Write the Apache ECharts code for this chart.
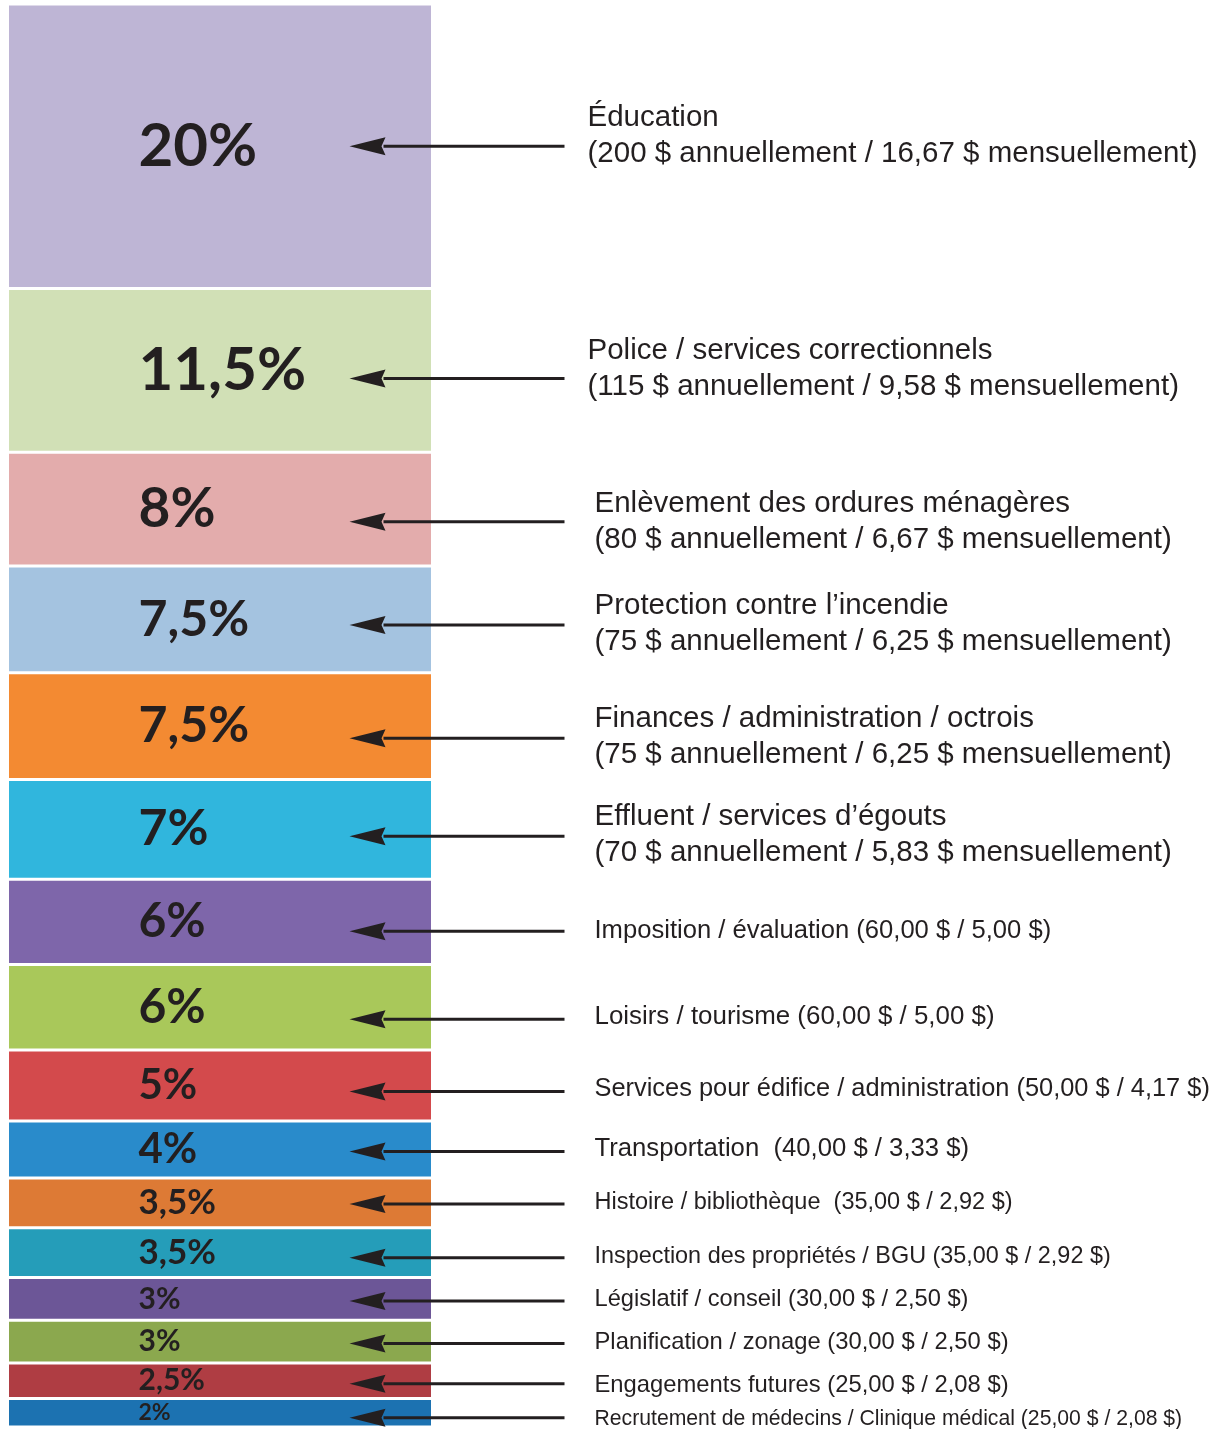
<!DOCTYPE html>
<html>
<head>
<meta charset="utf-8">
<script src="https://cdn.jsdelivr.net/npm/echarts@6/dist/echarts.min.js"></script>
<style>
html,body{margin:0;padding:0;background:#fff;}
#chart{width:1228px;height:1429px;}
</style>
</head>
<body>
<div id="chart"></div>
<script>
// ---- data ----
const categories = [
  'Éducation', 'Police / services correctionnels', 'Enlèvement des ordures ménagères',
  'Protection contre l’incendie', 'Finances / administration / octrois', 'Effluent / services d’égouts',
  'Imposition / évaluation', 'Loisirs / tourisme', 'Services pour édifice / administration',
  'Transportation', 'Histoire / bibliothèque', 'Inspection des propriétés / BGU',
  'Législatif / conseil', 'Planification / zonage', 'Engagements futures',
  'Recrutement de médecins / Clinique médical'
];
const shares = [20, 11.5, 8, 7.5, 7.5, 7, 6, 6, 5, 4, 3.5, 3.5, 3, 3, 2.5, 2];
const detailLabels = [
  'Éducation\n(200 $ annuellement / 16,67 $ mensuellement)',
  'Police / services correctionnels\n(115 $ annuellement / 9,58 $ mensuellement)',
  'Enlèvement des ordures ménagères\n(80 $ annuellement / 6,67 $ mensuellement)',
  'Protection contre l’incendie\n(75 $ annuellement / 6,25 $ mensuellement)',
  'Finances / administration / octrois\n(75 $ annuellement / 6,25 $ mensuellement)',
  'Effluent / services d’égouts\n(70 $ annuellement / 5,83 $ mensuellement)',
  'Imposition / évaluation (60,00 $ / 5,00 $)',
  'Loisirs / tourisme (60,00 $ / 5,00 $)',
  'Services pour édifice / administration (50,00 $ / 4,17 $)',
  'Transportation  (40,00 $ / 3,33 $)',
  'Histoire / bibliothèque  (35,00 $ / 2,92 $)',
  'Inspection des propriétés / BGU (35,00 $ / 2,92 $)',
  'Législatif / conseil (30,00 $ / 2,50 $)',
  'Planification / zonage (30,00 $ / 2,50 $)',
  'Engagements futures (25,00 $ / 2,08 $)',
  'Recrutement de médecins / Clinique médical (25,00 $ / 2,08 $)'
];

// ---- styles ----
const colors = ['#BEB5D5','#D1E0B6','#E3ACAC','#A4C3E0','#F38A32','#30B6DD','#7E66AA','#A9C85A',
                '#D34A4C','#298BCB','#DD7A35','#259DB9','#6C5697','#8BA84E','#AF3D43','#1C72B1'];
const pctFontSizes = [60, 60, 55, 50, 50, 50, 48, 48, 42, 42, 35, 35, 30, 30, 30, 23];
const textFontSizes = [29.5,29.5,29.5,29.5,29.5,29.5,25.6,25.9,25.4,25.7,23.5,23.4,23.7,23.8,23.8,21.2];
const arrowNudge = [0, 8, 12.5, 5.5, 12, 7, 9.5, 12, 6, 2, 1, 5, 2, 2, 3, 5];
const textNudge = [-10, -10, 0, -1, -1, -1, 0, -2, -2, -3, -1, -1, -1, -1, 2, 1];
const textIndent = [155, 155, 162, 162, 162, 162, 162, 162, 162, 162, 162, 162, 162, 162, 162, 162];
const ink = '#231F20';

const chart = echarts.init(document.getElementById('chart'), null, {renderer: 'canvas'});

const barSeries = shares.map((v, i) => ({
  name: categories[i],
  type: 'bar',
  stack: 'total',
  barWidth: '100%',
  data: [v],
  itemStyle: {color: colors[i], borderColor: '#fff', borderWidth: 1.5},
  label: {
    show: true,
    position: [131, '50%'],
    align: 'left',
    verticalAlign: 'middle',
    formatter: () => String(v).replace('.', ',') + '%',
    color: ink,
    fontFamily: 'Lato, "Open Sans", sans-serif',
    fontWeight: 'bold',
    fontSize: pctFontSizes[i]
  },
  emphasis: {disabled: true},
  animation: false
}));

let cum = 0;
const spanData = shares.map((v, i) => {
  const row = [0, cum, cum + v, i];
  cum += v;
  return row;
});

const annotationSeries = {
  type: 'custom',
  coordinateSystem: 'cartesian2d',
  data: spanData,
  encode: {x: 0, y: [1, 2]},
  clip: false,
  silent: true,
  animation: false,
  z: 10,
  renderItem: (params, api) => {
    const i = api.value(3);
    const mid = (api.value(1) + api.value(2)) / 2;
    const pt = api.coord([api.value(0), mid]);
    const bandW = api.size([1, 0])[0];
    const barRight = pt[0] + bandW / 2;
    const ya = pt[1] + arrowNudge[i];
    const yt = ya + textNudge[i];
    const tipX = barRight - 83;
    const baseX = barRight - 47;
    const endX = barRight + 132;
    return {
      type: 'group',
      children: [
        {type: 'line', shape: {x1: baseX - 2, y1: ya, x2: endX, y2: ya},
         style: {stroke: ink, lineWidth: 3}},
        {type: 'polygon', shape: {points: [[tipX, ya], [baseX, ya - 9], [baseX - 4, ya], [baseX, ya + 9]]},
         style: {fill: ink}},
        {type: 'text',
         style: {text: detailLabels[i], x: barRight + textIndent[i], y: yt,
                  fill: ink, fontSize: textFontSizes[i],
                  fontFamily: '"Liberation Sans", Arial, sans-serif',
                  align: 'left', verticalAlign: 'middle', lineHeight: 36}}
      ]
    };
  }
};

chart.setOption({
  backgroundColor: '#fff',
  animation: false,
  grid: {left: 7.5, top: 4, width: 425, height: 1423},
  xAxis: {type: 'category', data: ['Budget'], show: false},
  yAxis: {type: 'value', min: 0, max: 100, inverse: true, show: false},
  series: [...barSeries, annotationSeries]
});
</script>
</body>
</html>
